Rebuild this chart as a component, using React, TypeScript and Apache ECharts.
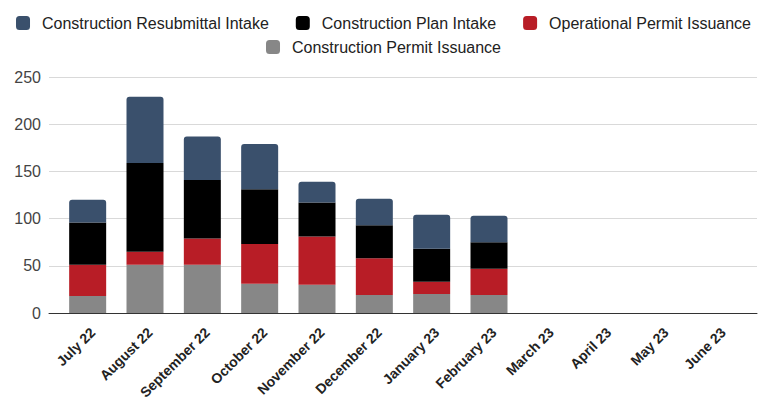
import React, { useEffect, useRef } from "react";
import * as echarts from "echarts";

const categories = [
  "July 22", "August 22", "September 22", "October 22", "November 22", "December 22",
  "January 23", "February 23", "March 23", "April 23", "May 23", "June 23",
];
const permitIssuance = [18, 51, 51, 31, 30, 19, 20, 19, null, null, null, null];
const operationalIssuance = [33, 14, 28, 42, 51, 39, 13, 28, null, null, null, null];
const planIntake = [45, 94, 62, 58, 36, 35, 35, 28, null, null, null, null];
const resubmittalIntake = [24, 70, 46, 48, 22, 28, 36, 28, null, null, null, null];
const yTicks = [0, 50, 100, 150, 200, 250];

const NAMES = {
  resub: "Construction Resubmittal Intake",
  plan: "Construction Plan Intake",
  oper: "Operational Permit Issuance",
  permit: "Construction Permit Issuance",
};
const COLORS = {
  resub: "#3a506c",
  plan: "#000000",
  oper: "#b81d26",
  permit: "#878787",
};

export default function App() {
  const ref = useRef<HTMLDivElement>(null);
  useEffect(() => {
    document.body.style.margin = "0";
    const chart = echarts.init(ref.current!, null, { renderer: "svg" });
    const legendBase = {
      icon: "roundRect",
      itemWidth: 14,
      itemHeight: 14,
      itemGap: 27,
      textStyle: {
        fontFamily: "Liberation Sans, Arial, sans-serif",
        fontSize: 16,
        color: "#222",
        padding: [0, 0, 0, 7],
      },
    };
    const yMax = yTicks[yTicks.length - 1];
    const barCommon = {
      type: "bar" as const,
      stack: "total",
      barWidth: 37,
      xAxisIndex: 1,
      yAxisIndex: 1,
    };
    chart.setOption({
      animation: false,
      legend: [
        { ...legendBase, top: 10, left: "center", data: [NAMES.resub, NAMES.plan, NAMES.oper] },
        { ...legendBase, top: 34, left: "center", data: [NAMES.permit] },
      ],
      grid: [
        { left: 49, right: 10, top: 77, bottom: 89 },
        { left: 59, right: 20, top: 77, bottom: 89 },
      ],
      xAxis: [
        {
          type: "value",
          gridIndex: 0,
          min: 0,
          max: 1,
          axisLine: { show: true, onZero: true, lineStyle: { color: "#333", width: 1 } },
          axisTick: { show: false },
          axisLabel: { show: false },
          splitLine: { show: false },
        },
        {
          type: "category",
          gridIndex: 1,
          data: categories,
          axisLine: { show: false },
          axisTick: { show: false },
          axisLabel: {
            rotate: 45,
            interval: 0,
            margin: 12,
            verticalAlign: "top",
            fontFamily: "Liberation Sans, Arial, sans-serif",
            fontSize: 14,
            fontWeight: "bold",
            color: "#222",
          },
        },
      ],
      yAxis: [
        {
          type: "value",
          gridIndex: 0,
          min: 0,
          max: yMax,
          interval: 50,
          axisLine: { show: false },
          axisTick: { show: false },
          axisLabel: {
            margin: 8,
            fontFamily: "Liberation Sans, Arial, sans-serif",
            fontSize: 16,
            color: "#444",
          },
          splitLine: { lineStyle: { color: "#d9d9d9", width: 1 } },
        },
        {
          type: "value",
          gridIndex: 1,
          min: 0,
          max: yMax,
          interval: 50,
          show: false,
        },
      ],
      series: [
        { ...barCommon, name: NAMES.permit, data: permitIssuance, itemStyle: { color: COLORS.permit } },
        { ...barCommon, name: NAMES.oper, data: operationalIssuance, itemStyle: { color: COLORS.oper } },
        { ...barCommon, name: NAMES.plan, data: planIntake, itemStyle: { color: COLORS.plan } },
        {
          ...barCommon,
          name: NAMES.resub,
          data: resubmittalIntake,
          itemStyle: { color: COLORS.resub, borderRadius: [3, 3, 0, 0] },
        },
      ],
    });
    return () => chart.dispose();
  }, []);
  return <div ref={ref} style={{ width: 767, height: 402 }} />;
}
